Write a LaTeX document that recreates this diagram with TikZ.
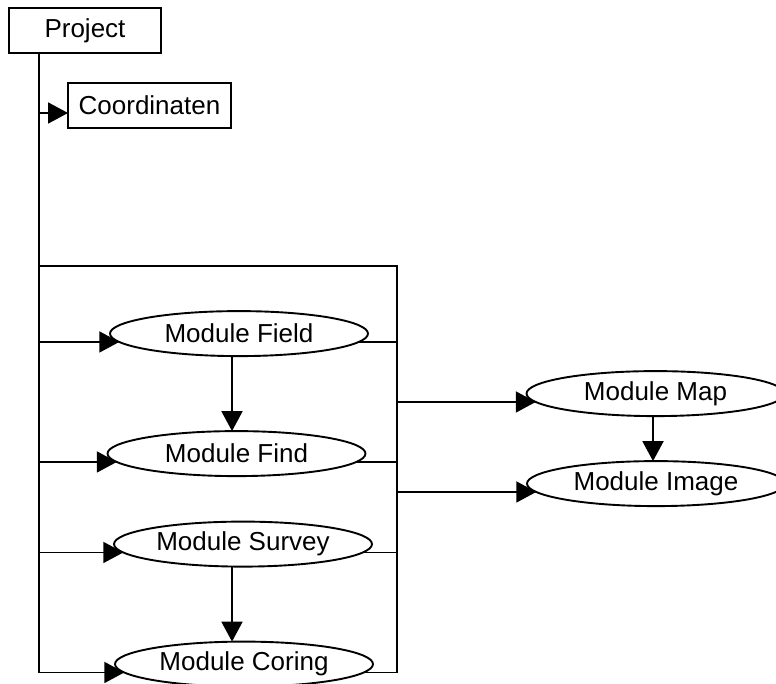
\documentclass[tikz,border=0pt]{standalone}
\usepackage{fontspec}
\setmainfont{Liberation Sans}
\usetikzlibrary{arrows.meta,shapes.geometric}
\begin{document}
\begin{tikzpicture}[x=1pt,y=-1pt,
  every node/.style={font=\fontsize{26}{31}\selectfont, text=black},
  boxnode/.style={draw, line width=1.6pt, rectangle, inner sep=0pt, outer sep=0pt, minimum height=45pt},
  modnode/.style={draw, line width=1.9pt, ellipse, inner sep=0pt, outer sep=0pt, minimum width=258pt, minimum height=45pt},
  conn/.style={line width=1.9pt},
  arr/.style={line width=1.9pt, -{Triangle[length=20pt,width=21pt]}}]
\clip (0,0) rectangle (776,683);
\fill[white] (0,0) rectangle (776,683);
% nodes
\node[boxnode, minimum width=152pt] (proj) at (85,30.5) {Project};
\node[boxnode, minimum width=163pt] (coo) at (149.5,105.5) {Coordinaten};
\node[modnode] (field) at (239,333.6) {Module Field};
\node[modnode] (find) at (236.5,453.6) {Module Find};
\node[modnode] (survey) at (243,544.1) {Module Survey};
\node[modnode] (coring) at (244,664.1) {Module Coring};
\node[modnode] (map) at (655.5,393.6) {Module Map};
\node[modnode] (image) at (656,483.6) {Module Image};
% helper coordinates
\coordinate (lbot) at (39,672.5);
\coordinate (tl) at (39,266);
\coordinate (tr) at (397,266);
\coordinate (rbot) at (397,672.5);
\coordinate (ca) at (39,113);
\coordinate (vx) at (232,0);
\coordinate (mx) at (653,0);
% trunk lines
\draw[conn] (proj.south -| lbot) -- (lbot);
\draw[conn] (tl) -- (tr) -- (rbot);
% coordinaten
\draw[arr] (ca) -- (ca -| coo.west);
% arrows into modules from left trunk
\draw[arr] (field.184 -| lbot) -- (field.184);
\draw[arr] (find.184 -| lbot) -- (find.184);
\draw[arr] (survey.184 -| lbot) -- (survey.184);
\draw[arr] (coring.184 -| lbot) -- (coring.184);
% lines from modules to right trunk
\draw[conn] (field.356) -- (field.356 -| tr);
\draw[conn] (find.356) -- (find.356 -| tr);
\draw[conn] (survey.356) -- (survey.356 -| tr);
\draw[conn] (coring.356) -- (coring.356 -| tr);
% right trunk to map and image
\draw[arr] (map.184 -| tr) -- (map.184);
\draw[arr] (image.184 -| tr) -- (image.184);
% vertical arrows
\draw[arr] (field.south -| vx) -- (find.north -| vx);
\draw[arr] (survey.south -| vx) -- (coring.north -| vx);
\draw[arr] (map.south -| mx) -- (image.north -| mx);
\end{tikzpicture}
\end{document}
